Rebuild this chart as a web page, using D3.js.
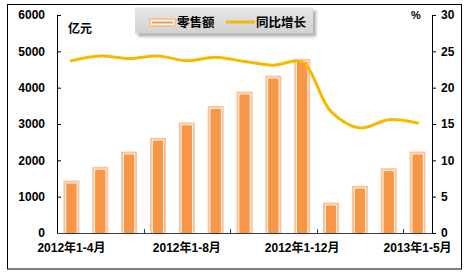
<!DOCTYPE html>
<html><head><meta charset="utf-8">
<script src="https://cdn.jsdelivr.net/npm/d3@7"></script>
<style>
html,body{margin:0;padding:0;background:#fff;}
svg{display:block;}
text{font-family:"Liberation Sans","Noto Sans CJK SC",Arial,sans-serif;font-weight:bold;fill:#000;}
</style></head>
<body>
<script>
const categories = ["2012年1-4月","2012年1-5月","2012年1-6月","2012年1-7月","2012年1-8月","2012年1-9月","2012年1-10月","2012年1-11月","2012年1-12月","2013年1-2月","2013年1-3月","2013年1-4月","2013年1-5月"];
const salesValues = [1400, 1780, 2200, 2580, 3000, 3450, 3850, 4290, 4750, 795, 1260, 1740, 2200];
const growthValues = [23.7, 24.35, 24.0, 24.35, 23.7, 24.2, 23.6, 23.1, 23.5, 16.7, 14.45, 15.6, 15.15];
const leftTicks = [0, 1000, 2000, 3000, 4000, 5000, 6000];
const rightTicks = [0, 5, 10, 15, 20, 25, 30];
const labelIdx = [0, 4, 8, 12];
const boundaryIdx = [3, 6, 9, 12];
const seriesNames = ["零售额", "同比增长"];

(function(){
const W = 469, H = 275;
const svg = d3.select("body").append("svg").attr("width", W).attr("height", H);

const defs = svg.append("defs");
const g1 = defs.append("linearGradient").attr("id","lg").attr("x1",0).attr("y1",0).attr("x2",0).attr("y2",1);
g1.append("stop").attr("offset","0%").attr("stop-color","#e6e6e6");
g1.append("stop").attr("offset","100%").attr("stop-color","#d2d2d2");
const f = defs.append("filter").attr("id","sh").attr("x","-10%").attr("y","-30%").attr("width","130%").attr("height","180%");
f.append("feGaussianBlur").attr("stdDeviation",1.5);

// outer border
svg.append("rect").attr("x",7.5).attr("y",4.5).attr("width",454).attr("height",264.5)
  .attr("fill","#fff").attr("stroke","#000").attr("stroke-width",1);

const pl = 57, pr = 432, pt = 15, pb = 233;
const x = d3.scaleBand().domain(categories).range([pl, pr]).padding(0);
const yL = d3.scaleLinear().domain([0, 6000]).range([pb, pt]);
const yR = d3.scaleLinear().domain([0, 30]).range([pb, pt]);
const bw = x.bandwidth() * 0.555;

// bars
const bars = svg.append("g");
categories.forEach((c, i) => {
  const cx = x(c) + x.bandwidth() / 2;
  const yt = yL(salesValues[i]) - 1.5;
  const h = pb - yt;
  bars.append("rect").attr("x", cx - bw/2).attr("y", yt).attr("width", bw).attr("height", h).attr("fill", "#f8c49c");
  bars.append("rect").attr("x", cx - bw/2 + 2).attr("y", yt + 2).attr("width", bw - 4).attr("height", h - 2).attr("fill", "#fff");
  bars.append("rect").attr("x", cx - bw/2 + 2.8).attr("y", yt + 2.8).attr("width", bw - 5.6).attr("height", h - 2.8).attr("fill", "#f79646");
});

// left axis
const axL = svg.append("g").attr("transform", `translate(${pl},0)`)
  .call(d3.axisLeft(yL).tickValues(leftTicks).tickSizeInner(-4).tickSizeOuter(0).tickPadding(12).tickFormat(d3.format("d")));
axL.attr("font-family", null).attr("font-size", null);
axL.selectAll("text").attr("font-size", 12);
axL.selectAll("line,path").attr("stroke", "#000");

// right axis
const axR = svg.append("g").attr("transform", `translate(${pr},0)`)
  .call(d3.axisRight(yR).tickValues(rightTicks).tickSizeInner(4).tickSizeOuter(0).tickPadding(5));
axR.attr("font-family", null).attr("font-size", null);
axR.selectAll("text").attr("font-size", 12);
axR.selectAll("line,path").attr("stroke", "#000");

// x axis baseline and ticks
const axX = svg.append("g");
axX.append("line").attr("x1", pl).attr("x2", pr).attr("y1", pb + 0.5).attr("y2", pb + 0.5).attr("stroke", "#2f3f4f").attr("stroke-width", 1);
boundaryIdx.forEach(i => {
  const bx = Math.round(x(categories[i])) + 0.5;
  axX.append("line").attr("x1", bx).attr("x2", bx).attr("y1", pb).attr("y2", pb - 4).attr("stroke", "#2f3f4f");
});
labelIdx.forEach(i => {
  axX.append("text").attr("x", x(categories[i]) + x.bandwidth()/2).attr("y", 252)
    .attr("text-anchor", "middle").attr("font-size", 12).text(categories[i]);
});

// line
const line = d3.line().x((d, i) => x(categories[i]) + x.bandwidth()/2).y(d => yR(d)).curve(d3.curveCatmullRom.alpha(0.5));
svg.append("path").datum(growthValues).attr("d", line).attr("fill", "none")
  .attr("stroke", "#f8b800").attr("stroke-width", 3).attr("stroke-linejoin","round").attr("stroke-linecap","round");

// unit labels
svg.append("text").attr("x", 68).attr("y", 33).attr("font-size", 12).text("亿元");
svg.append("text").attr("x", 411).attr("y", 19).attr("font-size", 11).text("%");

// legend
const lg = svg.append("g");
lg.append("rect").attr("x", 138).attr("y", 10.5).attr("width", 178).attr("height", 26).attr("fill", "#9a9a9a").attr("filter","url(#sh)").attr("opacity",0.8);
lg.append("rect").attr("x", 135).attr("y", 7.5).attr("width", 178).attr("height", 26).attr("fill", "url(#lg)");
lg.append("rect").attr("x", 150).attr("y", 19).attr("width", 25).attr("height", 7).attr("fill", "#fff").attr("stroke", "#f8c49c").attr("stroke-width", 2);
lg.append("rect").attr("x", 152).attr("y", 21.5).attr("width", 21).attr("height", 2).attr("fill", "#f79646");
lg.append("text").attr("x", 177).attr("y", 27).attr("font-size", 12.5).text(seriesNames[0]);
lg.append("line").attr("x1", 226).attr("x2", 255).attr("y1", 22).attr("y2", 22).attr("stroke", "#f8b800").attr("stroke-width", 3);
lg.append("text").attr("x", 256).attr("y", 27).attr("font-size", 12.5).text(seriesNames[1]);
})();
</script>
</body></html>
